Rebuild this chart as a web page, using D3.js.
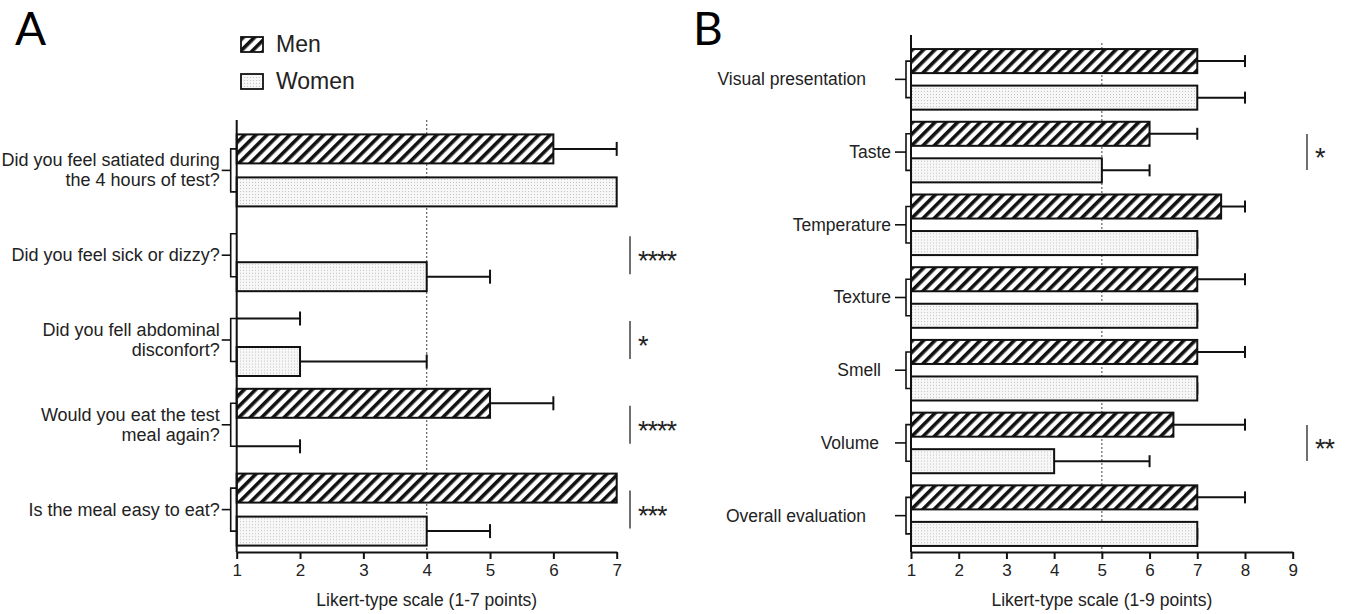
<!DOCTYPE html>
<html>
<head>
<meta charset="utf-8">
<script src="https://cdn.jsdelivr.net/npm/d3@7"></script>
<style>
body { margin: 0; background: #fff; }
svg { display: block; }
text { font-family: "Liberation Sans", Arial, sans-serif; fill: #222; }
</style>
</head>
<body>
<svg id="chart" width="1350" height="614"></svg>
<script>
// panel A data
var questionsA = ["Did you feel satiated during\nthe 4 hours of test?", "Did you feel sick or dizzy?",
    "Did you fell abdominal\ndisconfort?", "Would you eat the test\nmeal again?", "Is the meal easy to eat?"];
var menA = [6, 1, 1, 5, 7];
var menErrA = [1, null, 1, 1, null];
var womenA = [7, 4, 2, 1, 4];
var womenErrA = [null, 1, 2, 1, 1];
var sigA = ["", "****", "*", "****", "***"];
var ticksA = [1, 2, 3, 4, 5, 6, 7];

// panel B data
var itemsB = ["Visual presentation", "Taste", "Temperature", "Texture", "Smell", "Volume", "Overall evaluation"];
var menB = [7, 6, 7.5, 7, 7, 6.5, 7];
var menErrB = [1, 1, 0.5, 1, 1, 1.5, 1];
var womenB = [7, 5, 7, 7, 7, 4, 7];
var womenErrB = [1, 1, 0, 0, 0, 2, 0];
var sigB = ["", "*", "", "", "", "**", ""];
var ticksB = [1, 2, 3, 4, 5, 6, 7, 8, 9];

var series = ["Men", "Women"];
// gap between label end and bracket tick in B (the labels are not aligned in the original)
var labelGapB = [27, 2, 2, 2, 12, 14, 27];

var svg = d3.select("#chart");
var defs = svg.append("defs");

var hatch = defs.append("pattern")
    .attr("id", "hatch")
    .attr("patternUnits", "userSpaceOnUse")
    .attr("width", 8).attr("height", 8)
    .attr("patternTransform", "rotate(45)");
hatch.append("rect").attr("width", 8).attr("height", 8).attr("fill", "#fff");
hatch.append("rect").attr("x", 0).attr("width", 3.6).attr("height", 8).attr("fill", "#111");

var dots = defs.append("pattern")
    .attr("id", "dots")
    .attr("patternUnits", "userSpaceOnUse")
    .attr("width", 3).attr("height", 3);
dots.append("rect").attr("width", 3).attr("height", 3).attr("fill", "#f7f7f7");
dots.append("rect").attr("width", 1).attr("height", 1).attr("fill", "#c4c4c4");

var fills = {Men: "url(#hatch)", Women: "url(#dots)"};

function drawPanel(p) {
    var g = svg.append("g");
    var x = d3.scaleLinear().domain(p.domain).range([p.x0, p.x1]);
    var y = d3.scaleBand().domain(d3.range(p.labels.length)).range([p.top, p.bottom]);
    var sub = d3.scaleBand().domain(series).range([0, y.bandwidth()])
        .paddingInner(p.pIn).paddingOuter(p.pOut);

    var rows = p.labels.map(function(l, i) {
        return {i: i, label: l, sig: p.sig[i],
            bars: [{s: "Men", v: p.men[i], e: p.menErr[i]}, {s: "Women", v: p.women[i], e: p.womenErr[i]}]};
    });

    // reference line
    g.append("line")
        .attr("x1", x(p.ref)).attr("x2", x(p.ref))
        .attr("y1", p.refTop).attr("y2", p.bottom)
        .attr("stroke", "#555").attr("stroke-width", 1.1)
        .attr("stroke-dasharray", "2,2");

    var row = g.selectAll("g.row").data(rows).enter().append("g")
        .attr("class", "row")
        .attr("transform", function(d) { return "translate(0," + y(d.i) + ")"; });

    // error bars
    row.selectAll("g.err").data(function(d) { return d.bars.filter(function(b) { return b.e !== null; }); })
        .enter().append("g").attr("class", "err")
        .each(function(b) {
            var cy = sub(b.s) + sub.bandwidth() / 2;
            var e = d3.select(this);
            e.append("line").attr("x1", x(b.v)).attr("x2", x(b.v + b.e))
                .attr("y1", cy).attr("y2", cy).attr("stroke", "#111").attr("stroke-width", 2);
            e.append("line").attr("x1", x(b.v + b.e)).attr("x2", x(b.v + b.e))
                .attr("y1", cy - p.cap / 2).attr("y2", cy + p.cap / 2)
                .attr("stroke", "#111").attr("stroke-width", 2);
        });

    // bars
    row.selectAll("rect.bar").data(function(d) { return d.bars.filter(function(b) { return b.v > p.domain[0]; }); })
        .enter().append("rect").attr("class", "bar")
        .attr("x", x(p.domain[0]))
        .attr("y", function(b) { return sub(b.s); })
        .attr("width", function(b) { return x(b.v) - x(p.domain[0]); })
        .attr("height", sub.bandwidth())
        .attr("fill", function(b) { return fills[b.s]; })
        .attr("stroke", "#111").attr("stroke-width", 2);

    // group brackets, labels, significance marks
    row.each(function(d) {
        var r = d3.select(this);
        var yM = sub("Men") + sub.bandwidth() / 2, yW = sub("Women") + sub.bandwidth() / 2;
        var bx = x(p.domain[0]) - p.brW;
        r.append("path")
            .attr("d", "M" + x(p.domain[0]) + "," + yM + "H" + bx + "V" + yW + "H" + x(p.domain[0]))
            .attr("fill", "none").attr("stroke", "#111").attr("stroke-width", 1.6);
        r.append("line")
            .attr("x1", bx - p.tick).attr("x2", bx)
            .attr("y1", y.bandwidth() / 2).attr("y2", y.bandwidth() / 2)
            .attr("stroke", "#111").attr("stroke-width", 1.6);
        var lines = d.label.split("\n");
        var lx = bx - p.tick - 2 - (p.gaps ? p.gaps[d.i] : 0);
        var t = r.append("text")
            .attr("x", lx)
            .attr("text-anchor", "end")
            .style("font-size", p.labelSize + "px");
        lines.forEach(function(l, k) {
            var by = lines.length === 1 ? y.bandwidth() / 2 + 6 : y.bandwidth() / 2 - 4 + k * 20;
            t.append("tspan").attr("x", lx).attr("y", by).text(l);
        });
        if (d.sig) {
            var cy = y.bandwidth() / 2;
            r.append("line").attr("x1", p.sigX).attr("x2", p.sigX)
                .attr("y1", cy - p.sigH).attr("y2", cy + p.sigH)
                .attr("stroke", "#333").attr("stroke-width", 1.4);
            r.append("text").attr("x", p.sigX + 8).attr("y", cy + 15)
                .style("font-size", "27px").style("letter-spacing", "-1px")
                .text(d.sig);
        }
    });

    // y axis line
    g.append("line").attr("x1", x(p.domain[0])).attr("x2", x(p.domain[0]))
        .attr("y1", p.top - 8).attr("y2", p.bottom)
        .attr("stroke", "#111").attr("stroke-width", 2);

    // x axis
    var ax = g.append("g").attr("transform", "translate(0," + p.bottom + ")")
        .call(d3.axisBottom(x).tickValues(p.ticks).tickFormat(d3.format("d"))
            .tickSize(7).tickSizeOuter(0).tickPadding(5));
    ax.select(".domain").attr("stroke", "#111").attr("stroke-width", 2);
    ax.selectAll(".tick line").attr("stroke", "#111").attr("stroke-width", 2);
    ax.selectAll(".tick text").style("font-size", "17px")
        .style("font-family", "Liberation Sans, Arial, sans-serif").attr("fill", "#222");

    g.append("text").attr("x", (p.x0 + p.x1) / 2).attr("y", p.bottom + 54)
        .attr("text-anchor", "middle").style("font-size", "17.5px").text(p.title);

    g.append("text").attr("x", p.letterX).attr("y", 45)
        .style("font-family", "Lato, sans-serif").style("font-size", "46px").style("fill", "#000")
        .text(p.letter);
}

drawPanel({
    labels: questionsA, men: menA, menErr: menErrA, women: womenA, womenErr: womenErrA, sig: sigA,
    ticks: ticksA, domain: [1, 7], x0: 236.7, x1: 616.7, top: 128, bottom: 552,
    pIn: 0.326, pOut: 0.149, ref: 4, refTop: 120, cap: 14, brW: 6, tick: 9,
    labelSize: 18, sigX: 630, sigH: 19, title: "Likert-type scale (1-7 points)", letter: "A", letterX: 15
});

drawPanel({
    labels: itemsB, men: menB, menErr: menErrB, women: womenB, womenErr: womenErrB, sig: sigB,
    ticks: ticksB, domain: [1, 9], x0: 911, x1: 1292.7, top: 43, bottom: 552,
    pIn: 0.342, pOut: 0.166, ref: 5, refTop: 43, cap: 12, brW: 5, tick: 11,
    labelSize: 17.5, sigX: 1307, sigH: 18, gaps: labelGapB,
    title: "Likert-type scale (1-9 points)", letter: "B", letterX: 693
});

// legend
var legend = svg.append("g").selectAll("g").data(series).enter().append("g")
    .attr("transform", function(d, i) { return "translate(241," + (37 + i * 37) + ")"; });
legend.append("rect").attr("width", 22).attr("height", 15)
    .attr("fill", function(d) { return fills[d]; })
    .attr("stroke", "#111").attr("stroke-width", 1.8);
legend.append("text").attr("x", 35).attr("y", 15)
    .style("font-size", "23px").text(function(d) { return d; });
</script>
</body>
</html>
